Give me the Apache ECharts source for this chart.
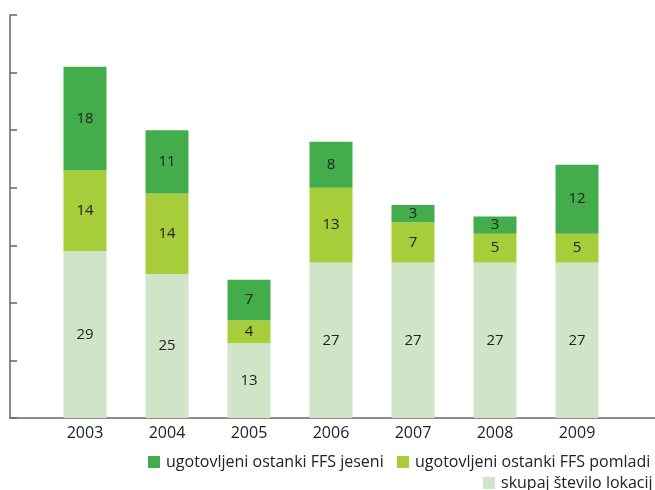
<!DOCTYPE html>
<html>
<head>
<meta charset="utf-8">
<script src="https://cdn.jsdelivr.net/npm/echarts@6/dist/echarts.min.js"></script>
<style>
  html, body { margin: 0; padding: 0; background: #fff; }
  #main { width: 655px; height: 490px; }
</style>
</head>
<body>
<div id="main"></div>
<script>
// podatki
var years = ['2003', '2004', '2005', '2006', '2007', '2008', '2009'];
var skupaj = [29, 25, 13, 27, 27, 27, 27];
var pomladi = [14, 14, 4, 13, 7, 5, 5];
var jeseni = [18, 11, 7, 8, 3, 3, 12];

var names = ['ugotovljeni ostanki FFS jeseni', 'ugotovljeni ostanki FFS pomladi', 'skupaj število lokacij'];
var colors = ['#42ad4a', '#a8cd3b', '#d0e4c8'];
var font = 'Open Sans';

var myChart = echarts.init(document.getElementById('main'));

var lbl = { show: true, position: 'inside', color: '#222', fontSize: 15, fontFamily: font };

function legendAt(name, left, top) {
    return {
        data: [name], left: left, top: top, itemWidth: 12, itemHeight: 12, itemGap: 0,
        icon: 'rect', textStyle: { fontSize: 16, color: '#222', fontFamily: font, padding: [0, 0, 0, 1] }
    };
}

var option = {
    animation: false,
    legend: [
        legendAt(names[0], 143, 449),
        legendAt(names[1], 392, 449),
        legendAt(names[2], 478, 470)
    ],
    grid: [
        { left: 44, right: 37, top: 15, bottom: 72 },
        { left: 10, right: 0, top: 15, bottom: 72 }
    ],
    xAxis: [{
        type: 'category',
        data: years,
        axisLine: { show: false },
        axisTick: { show: false },
        axisLabel: { color: '#222', fontSize: 16, fontFamily: font, margin: 7 }
    }, {
        gridIndex: 1, type: 'value', min: 0, max: 1,
        axisLine: { show: true, lineStyle: { color: '#666', width: 1.5 } },
        axisTick: { show: false }, axisLabel: { show: false }, splitLine: { show: false }
    }],
    yAxis: [{
        type: 'value', min: 0, max: 70, interval: 10, offset: 34,
        axisLine: { show: true, lineStyle: { color: '#666', width: 1.5 } },
        axisTick: { show: true, inside: true, length: 7, lineStyle: { color: '#666', width: 1.5 } },
        axisLabel: { show: false },
        splitLine: { show: false }
    }, {
        gridIndex: 1, type: 'value', show: false
    }],
    series: [
        { name: names[2], type: 'bar', stack: 't', barWidth: 43, data: skupaj, itemStyle: { color: colors[2] }, label: lbl },
        { name: names[1], type: 'bar', stack: 't', barWidth: 43, data: pomladi, itemStyle: { color: colors[1] }, label: lbl },
        { name: names[0], type: 'bar', stack: 't', barWidth: 43, data: jeseni, itemStyle: { color: colors[0] }, label: lbl }
    ]
};

myChart.setOption(option);
</script>
</body>
</html>
